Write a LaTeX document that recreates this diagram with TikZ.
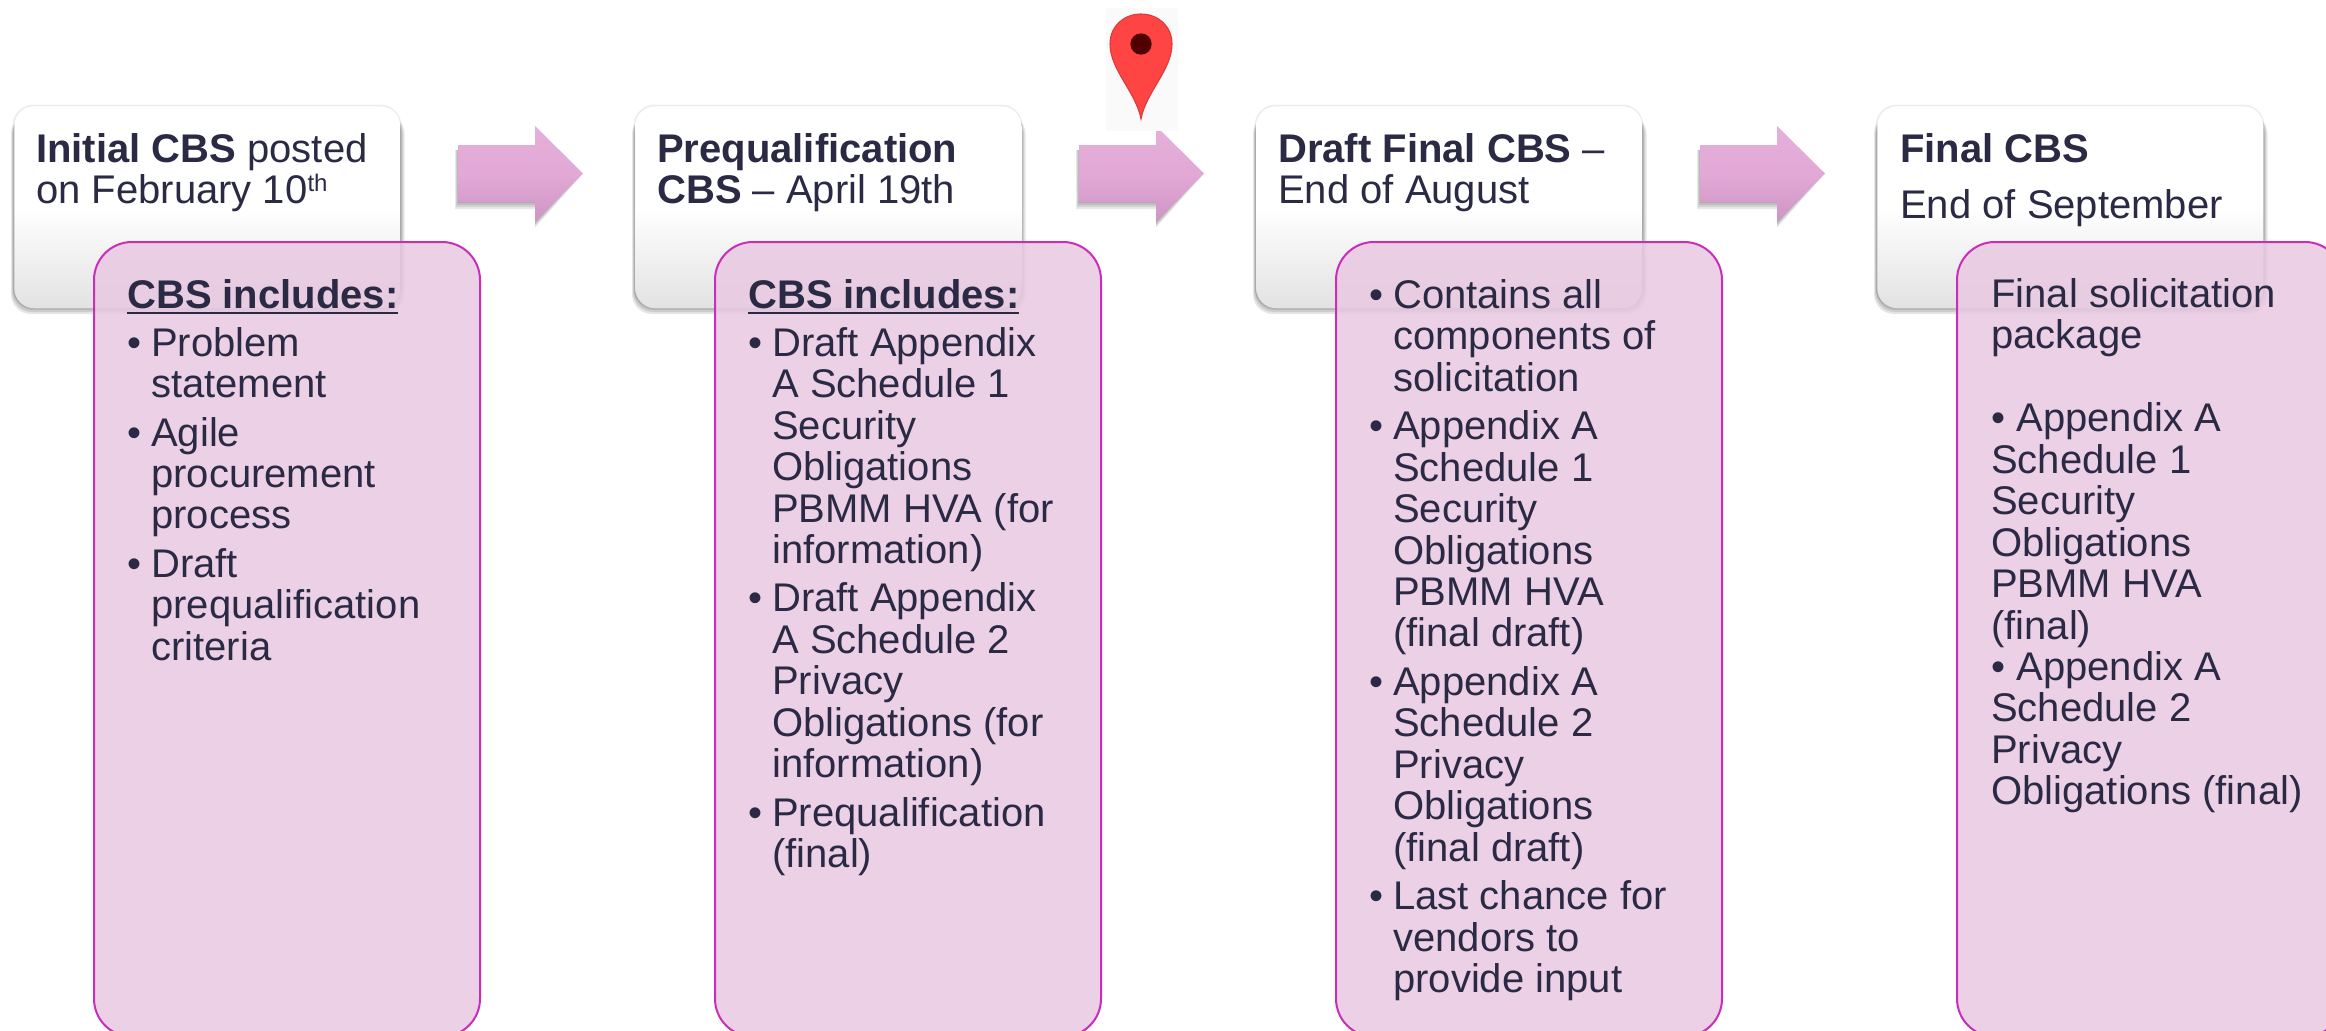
\documentclass[tikz,border=0pt]{standalone}
\usepackage{fontspec}
\setmainfont{Liberation Sans}
\definecolor{inkc}{HTML}{2B2A45}
\definecolor{pinkfill}{HTML}{E9C8E2}
\definecolor{pinkline}{HTML}{C92DB9}
\definecolor{arrtop}{HTML}{E5B0DA}
\definecolor{arrmid}{HTML}{E2A8D6}
\definecolor{arrbot}{HTML}{CE95C4}
\definecolor{cardbot}{HTML}{E2E2E2}
\definecolor{pinred}{HTML}{FF4444}
\definecolor{pinedge}{HTML}{D83C3C}
\definecolor{pindot}{HTML}{500000}
\definecolor{pinbg}{HTML}{FAFAFA}
\newcommand\tstrut{\rule{0pt}{30pt}}
\newcommand\bl{\makebox[18pt][l]{•}}
\newcommand\ind{\hspace*{18pt}}
\newsavebox\ulbox
\newcommand\ulin[1]{\sbox\ulbox{#1}\rlap{\rule[-4.6pt]{\wd\ulbox}{2.1pt}}\usebox\ulbox}
\newcommand\thsup{\raisebox{9pt}{\fontsize{18}{18}\selectfont th}}
\tikzset{
  x=0.75pt,y=-0.75pt,
  txt/.style={anchor=north west,inner sep=0pt,align=left,text=inkc,
    font=\fontsize{30}{31.1}\selectfont},
  cardbox/.style={rectangle,rounded corners=15pt,anchor=north west,inner sep=0pt,
    minimum width=289.5pt,minimum height=151.5pt,
    top color=white,bottom color=cardbot,middle color=white},
  pinkbox/.style={rectangle,rounded corners=28.5pt,anchor=north west,inner sep=0pt,
    minimum width=289.5pt,minimum height=596pt,
    fill=pinkfill,fill opacity=0.85,draw=pinkline,draw opacity=1,line width=1.5pt},
  blockarrow/.style={top color=arrtop,bottom color=arrbot,middle color=arrmid},
}
% card with its soft shadow; #1 name, #2 left x
\newcommand\cardat[2]{%
  \fill[black,opacity=0.07,rounded corners=16pt]
    (#2-1.5,104.5) rectangle (#2+387.5,309);
  \foreach \g in {6,4,2}{
    \fill[black,opacity=0.1,rounded corners=15pt]
      (#2-\g*0.5,114) rectangle (#2+386+\g*0.75,307+1+\g);
  }
  \node[cardbox] (#1) at (#2,106) {};
}
% block arrow with shadow; #1 left x
\newcommand\arrowat[1]{%
  \foreach \g in {7,5,3,1}{
    \fill[black,opacity=0.09]
      (#1-0.4*\g,150) -- (#1+77,150) -- (#1+77,130) -- (#1+122,173.5+\g*0.5)
      -- (#1+77,222+0.8*\g) -- (#1+77,202+\g) -- (#1-0.4*\g,202+\g) -- cycle;
  }
  \path[blockarrow] (#1,145) -- (#1+77,145) -- (#1+77,126) -- (#1+125,173.5)
    -- (#1+77,222) -- (#1+77,202) -- (#1,202) -- cycle;
}
\begin{document}
\begin{tikzpicture}
\useasboundingbox (0,0) rectangle (2326,1031);
\clip (0,0) rectangle (2326,1031);
\fill[white] (0,0) rectangle (2326,1031);

\cardat{cardA}{14}
\cardat{cardB}{635}
\cardat{cardC}{1256}
\cardat{cardD}{1877}

\arrowat{458}
\arrowat{1079}
\arrowat{1700}

% map pin
\fill[pinbg] (1106,8) rectangle (1178,131);
\draw[pinedge,line width=0.8pt,fill=pinred]
  (1141,119) .. controls (1136,92) and (1110,70) .. (1110,44)
  .. controls (1110,26) and (1124,14) .. (1141,14)
  .. controls (1158,14) and (1172,26) .. (1172,44)
  .. controls (1172,70) and (1146,92) .. (1141,119) -- cycle;
\fill[pindot] (1141,44) circle[radius=8pt];

\node[txt] (titleA) at (36,122) {\tstrut\textbf{Initial CBS} posted\\on February 10\thsup};
\node[txt] (titleB) at (657,122) {\tstrut\textbf{Prequalification}\\\textbf{CBS} – April 19th};
\node[txt] (titleC) at (1278,122) {\tstrut\textbf{Draft Final CBS} –\\End of August};
\node[txt] (titleD) at (1900,122) {\tstrut\textbf{Final CBS}\\[10.9pt]End of September};

\node[pinkbox] (boxA) at (93,241) {};
\node[pinkbox] (boxB) at (714,241) {};
\node[pinkbox] (boxC) at (1335,241) {};
\node[pinkbox] (boxD) at (1956,241) {};

\node[txt] (textA) at (127,268) {\tstrut\ulin{\textbf{CBS includes:}}\\[4.8pt]
\bl Problem\\\ind statement\\[5.2pt]
\bl Agile\\\ind procurement\\\ind process\\[5.2pt]
\bl Draft\\\ind prequalification\\\ind criteria};

\node[txt] (textB) at (748,268) {\tstrut\ulin{\textbf{CBS includes:}}\\[4.8pt]
\bl Draft Appendix\\\ind A Schedule 1\\\ind Security\\\ind Obligations\\\ind PBMM HVA (for\\\ind information)\\[5.2pt]
\bl Draft Appendix\\\ind A Schedule 2\\\ind Privacy\\\ind Obligations (for\\\ind information)\\[5.2pt]
\bl Prequalification\\\ind (final)};

\node[txt] (textC) at (1369,268) {\tstrut\bl Contains all\\\ind components of\\\ind solicitation\\[5.2pt]
\bl Appendix A\\\ind Schedule 1\\\ind Security\\\ind Obligations\\\ind PBMM HVA\\\ind (final draft)\\[5.2pt]
\bl Appendix A\\\ind Schedule 2\\\ind Privacy\\\ind Obligations\\\ind (final draft)\\[5.2pt]
\bl Last chance for\\\ind vendors to\\\ind provide input};

\node[txt] (textD) at (1991,267) {\tstrut Final solicitation\\package\\[31.1pt]
• Appendix A\\Schedule 1\\Security\\Obligations\\PBMM HVA\\(final)\\
• Appendix A\\Schedule 2\\Privacy\\Obligations (final)};
\end{tikzpicture}
\end{document}
